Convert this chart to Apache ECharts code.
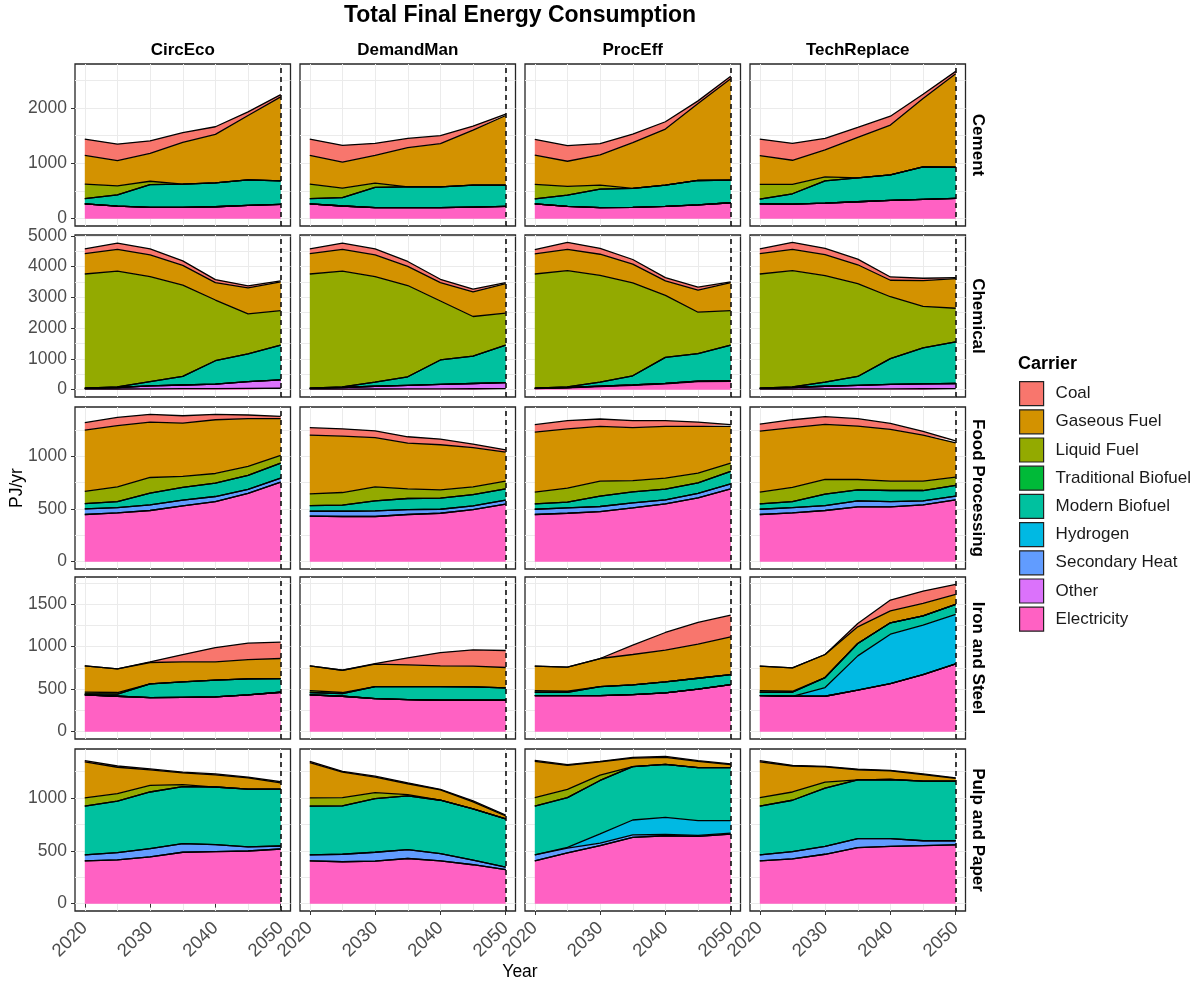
<!DOCTYPE html>
<html>
<head>
<meta charset="utf-8">
<title>Total Final Energy Consumption</title>
<script src="https://cdn.jsdelivr.net/npm/echarts@6/dist/echarts.min.js"></script>
<style>
  html, body { margin: 0; padding: 0; background: #fff; }
  #chart { width: 1197px; height: 983px; }
</style>
</head>
<body>
<div id="chart"></div>
<script>
// ---- data -------------------------------------------------------------
const years = [2020, 2025, 2030, 2035, 2040, 2045, 2050];
const scenarios = ['CircEco', 'DemandMan', 'ProcEff', 'TechReplace'];
const sectors = ['Cement', 'Chemical', 'Food Processing', 'Iron and Steel', 'Pulp and Paper'];
const carriers = ['Coal', 'Gaseous Fuel', 'Liquid Fuel', 'Traditional Biofuel', 'Modern Biofuel',
  'Hydrogen', 'Secondary Heat', 'Other', 'Electricity'];
const carrierColors = ['#F8766D', '#D39200', '#93AA00', '#00BA38', '#00C19F',
  '#00B9E3', '#619CFF', '#DB72FB', '#FF61C3'];

const xTickLabels = [2020, 2030, 2040, 2050];
const xGridBreaks = [2020, 2025, 2030, 2035, 2040, 2045, 2050];
const yTickLabels = [
  [0, 1000, 2000],
  [0, 1000, 2000, 3000, 4000, 5000],
  [0, 500, 1000],
  [0, 500, 1000, 1500],
  [0, 500, 1000]
];
const yGridBreaks = [
  [0, 500, 1000, 1500, 2000, 2500],
  [0, 500, 1000, 1500, 2000, 2500, 3000, 3500, 4000, 4500, 5000],
  [0, 250, 500, 750, 1000, 1250],
  [0, 250, 500, 750, 1000, 1250, 1500, 1750],
  [0, 250, 500, 750, 1000, 1250]
];

// PJ/yr per carrier, 2020..2050
const cementCircEco = {
  'Electricity': [265, 225, 205, 205, 215, 240, 258],
  'Modern Biofuel': [95, 205, 410, 418, 432, 460, 425],
  'Liquid Fuel': [263, 162, 60, 0, 0, 0, 0],
  'Gaseous Fuel': [521, 455, 503, 754, 874, 1162, 1515],
  'Coal': [293, 299, 227, 174, 138, 66, 42]
};
const cementDemandMan = {
  'Electricity': [265, 228, 200, 198, 198, 208, 220],
  'Modern Biofuel': [95, 150, 363, 377, 377, 397, 385],
  'Liquid Fuel': [263, 174, 78, 0, 0, 0, 0],
  'Gaseous Fuel': [521, 467, 503, 706, 778, 994, 1257],
  'Coal': [293, 305, 215, 168, 144, 72, 24]
};
const cementProcEff = {
  'Electricity': [265, 222, 198, 204, 222, 250, 287],
  'Modern Biofuel': [90, 203, 335, 341, 383, 439, 408],
  'Liquid Fuel': [264, 156, 72, 0, 0, 0, 0],
  'Gaseous Fuel': [527, 455, 545, 826, 1012, 1389, 1832],
  'Coal': [287, 281, 203, 156, 132, 48, 42]
};
const cementTechReplace = {
  'Electricity': [265, 263, 281, 305, 329, 347, 365],
  'Modern Biofuel': [88, 186, 402, 432, 461, 587, 563],
  'Liquid Fuel': [264, 168, 71, 0, 0, 0, 0],
  'Gaseous Fuel': [521, 437, 486, 730, 899, 1234, 1689],
  'Coal': [299, 305, 209, 180, 161, 78, 42]
};

const chemicalCircEco = {
  'Electricity': [15, 20, 25, 30, 35, 40, 45],
  'Other': [25, 50, 95, 120, 145, 220, 275],
  'Modern Biofuel': [5, 20, 140, 280, 760, 900, 1125],
  'Liquid Fuel': [3713, 3764, 3412, 2964, 1972, 1303, 1125],
  'Gaseous Fuel': [664, 707, 707, 642, 568, 845, 931],
  'Coal': [150, 203, 193, 150, 96, 65, 32]
};
const chemicalDemandMan = {
  'Electricity': [15, 18, 20, 22, 25, 28, 30],
  'Other': [25, 52, 90, 118, 145, 172, 200],
  'Modern Biofuel': [5, 20, 136, 278, 794, 892, 1215],
  'Liquid Fuel': [3713, 3764, 3426, 2965, 1916, 1285, 1039],
  'Gaseous Fuel': [664, 707, 707, 621, 600, 803, 964],
  'Coal': [150, 203, 193, 161, 107, 86, 32]
};
const chemicalProcEff = {
  'Electricity': [30, 60, 100, 140, 190, 260, 270],
  'Other': [10, 10, 12, 15, 15, 15, 15],
  'Modern Biofuel': [5, 20, 134, 295, 844, 892, 1160],
  'Liquid Fuel': [3713, 3775, 3469, 3019, 2013, 1349, 1125],
  'Gaseous Fuel': [653, 696, 685, 610, 471, 718, 910],
  'Coal': [139, 225, 193, 150, 107, 96, 20]
};
const chemicalTechReplace = {
  'Electricity': [15, 18, 20, 22, 25, 28, 30],
  'Other': [25, 52, 90, 118, 145, 162, 170],
  'Modern Biofuel': [5, 20, 136, 288, 836, 1170, 1352],
  'Liquid Fuel': [3713, 3775, 3458, 3020, 2013, 1349, 1093],
  'Gaseous Fuel': [664, 696, 686, 610, 536, 835, 963],
  'Coal': [150, 225, 203, 182, 107, 75, 32]
};

const foodCircEco = {
  'Electricity': [448, 463, 486, 530, 571, 648, 756],
  'Secondary Heat': [54, 51, 54, 54, 48, 38, 38],
  'Modern Biofuel': [50, 57, 111, 121, 127, 133, 143],
  'Liquid Fuel': [115, 140, 149, 105, 92, 86, 73],
  'Gaseous Fuel': [584, 581, 527, 507, 511, 454, 349],
  'Coal': [70, 79, 73, 70, 51, 35, 22]
};
const foodDemandMan = {
  'Electricity': [432, 429, 429, 448, 460, 495, 546],
  'Secondary Heat': [47, 50, 54, 47, 38, 35, 38],
  'Modern Biofuel': [54, 58, 95, 105, 105, 108, 108],
  'Liquid Fuel': [111, 120, 133, 92, 80, 73, 73],
  'Gaseous Fuel': [559, 537, 467, 435, 428, 372, 276],
  'Coal': [70, 69, 66, 60, 54, 34, 22]
};
const foodProcEff = {
  'Electricity': [448, 460, 476, 511, 549, 606, 692],
  'Secondary Heat': [50, 51, 48, 48, 38, 42, 48],
  'Modern Biofuel': [51, 54, 98, 104, 102, 101, 117],
  'Liquid Fuel': [111, 133, 143, 108, 105, 92, 80],
  'Gaseous Fuel': [572, 565, 521, 502, 492, 445, 349],
  'Coal': [70, 77, 70, 67, 54, 41, 16]
};
const foodTechReplace = {
  'Electricity': [448, 463, 486, 521, 521, 540, 587],
  'Secondary Heat': [50, 51, 47, 57, 50, 38, 35],
  'Modern Biofuel': [51, 57, 108, 105, 105, 98, 102],
  'Liquid Fuel': [111, 134, 140, 98, 89, 89, 79],
  'Gaseous Fuel': [581, 568, 524, 508, 492, 438, 327],
  'Coal': [67, 76, 73, 70, 57, 35, 19]
};

const ironCircEco = {
  'Electricity': [432, 416, 400, 404, 408, 432, 463],
  'Modern Biofuel': [13, 24, 161, 181, 197, 188, 161],
  'Liquid Fuel': [20, 20, 0, 0, 0, 0, 0],
  'Gaseous Fuel': [308, 278, 252, 236, 216, 228, 236],
  'Coal': [0, 0, 8, 86, 168, 192, 192]
};
const ironDemandMan = {
  'Electricity': [432, 416, 389, 377, 369, 369, 369],
  'Modern Biofuel': [28, 32, 141, 153, 161, 157, 145],
  'Liquid Fuel': [23, 12, 0, 0, 0, 0, 0],
  'Gaseous Fuel': [290, 262, 263, 255, 243, 244, 240],
  'Coal': [0, 0, 8, 83, 157, 192, 200]
};
const ironProcEff = {
  'Electricity': [424, 424, 424, 436, 455, 499, 554],
  'Modern Biofuel': [39, 39, 106, 114, 130, 129, 117],
  'Liquid Fuel': [20, 12, 0, 0, 0, 0, 0],
  'Gaseous Fuel': [287, 283, 330, 357, 373, 400, 444],
  'Coal': [0, 0, 0, 110, 208, 256, 255]
};
const ironTechReplace = {
  'Electricity': [424, 416, 416, 487, 565, 671, 797],
  'Hydrogen': [0, 0, 102, 404, 581, 581, 581],
  'Modern Biofuel': [39, 47, 118, 145, 134, 110, 118],
  'Liquid Fuel': [20, 12, 0, 0, 0, 0, 0],
  'Gaseous Fuel': [287, 275, 271, 197, 141, 146, 118],
  'Coal': [0, 0, 0, 39, 126, 145, 118]
};

const pulpCircEco = {
  'Electricity': [405, 414, 442, 486, 492, 498, 517],
  'Secondary Heat': [56, 69, 78, 81, 66, 38, 28],
  'Modern Biofuel': [461, 486, 536, 539, 545, 548, 539],
  'Liquid Fuel': [78, 71, 62, 19, 0, 0, 0],
  'Gaseous Fuel': [340, 250, 147, 112, 115, 106, 59],
  'Coal': [12, 12, 9, 6, 9, 6, 10]
};
const pulpDemandMan = {
  'Electricity': [405, 396, 402, 427, 405, 368, 321],
  'Secondary Heat': [56, 71, 84, 84, 69, 43, 25],
  'Modern Biofuel': [461, 458, 508, 508, 504, 486, 455],
  'Liquid Fuel': [78, 78, 56, 12, 0, 0, 0],
  'Gaseous Fuel': [333, 240, 146, 103, 97, 66, 28],
  'Coal': [13, 9, 10, 9, 6, 9, 9]
};
const pulpProcEff = {
  'Electricity': [405, 480, 548, 626, 642, 636, 657],
  'Secondary Heat': [56, 46, 25, 25, 12, 9, 10],
  'Hydrogen': [0, 7, 87, 140, 162, 140, 118],
  'Modern Biofuel': [461, 470, 505, 505, 502, 502, 502],
  'Liquid Fuel': [81, 78, 50, 0, 0, 0, 0],
  'Gaseous Fuel': [343, 227, 125, 81, 65, 59, 28],
  'Coal': [9, 7, 6, 6, 10, 6, 6]
};
const pulpTechReplace = {
  'Electricity': [405, 424, 467, 530, 542, 548, 555],
  'Secondary Heat': [56, 68, 75, 84, 72, 47, 40],
  'Modern Biofuel': [461, 486, 551, 557, 560, 564, 564],
  'Liquid Fuel': [81, 78, 57, 0, 0, 0, 0],
  'Gaseous Fuel': [337, 246, 143, 94, 81, 62, 25],
  'Coal': [12, 6, 6, 6, 6, 6, 6]
};

const panels = [
  [cementCircEco, cementDemandMan, cementProcEff, cementTechReplace],
  [chemicalCircEco, chemicalDemandMan, chemicalProcEff, chemicalTechReplace],
  [foodCircEco, foodDemandMan, foodProcEff, foodTechReplace],
  [ironCircEco, ironDemandMan, ironProcEff, ironTechReplace],
  [pulpCircEco, pulpDemandMan, pulpProcEff, pulpTechReplace]
];

// ---- layout -----------------------------------------------------------
const FONT = '"Liberation Sans", Arial, Helvetica, sans-serif';
const panelLeft = [75, 300, 525, 750];
const panelTop = [64, 235, 407, 577, 749];
const panelW = 215.5;
const panelH = 162;
const plain = v => String(v);

const chart = echarts.init(document.getElementById('chart'));

const grids = [];
const xAxes = [];
const yAxes = [];
const series = [];
const stackOrder = carriers.slice().reverse(); // Electricity at the bottom

sectors.forEach((sector, r) => {
  // free y per row: 5% expansion around the largest stacked total
  let rowMax = 0;
  panels[r].forEach(p => {
    years.forEach((_, i) => {
      let s = 0;
      carriers.forEach(c => { if (p[c]) s += p[c][i]; });
      rowMax = Math.max(rowMax, s);
    });
  });
  const yMin = -0.05 * rowMax;
  const yMax = 1.05 * rowMax;

  scenarios.forEach((sc, c) => {
    const g = grids.length;
    grids.push({
      left: panelLeft[c], top: panelTop[r], width: panelW, height: panelH,
      show: true, backgroundColor: '#fff', borderColor: '#262626', borderWidth: 1.3
    });

    const xi = xAxes.length;
    xAxes.push({
      type: 'value', gridIndex: g, position: 'bottom', min: 2018.5, max: 2051.5,
      axisLine: { show: false },
      axisTick: { show: false, customValues: xGridBreaks },
      axisLabel: { show: false },
      splitLine: { show: true, lineStyle: { color: '#EBEBEB', width: 1 } }
    });
    if (r === sectors.length - 1) {
      xAxes.push({
        type: 'value', gridIndex: g, position: 'bottom', min: 2018.5, max: 2051.5,
        axisLine: { show: false },
        axisTick: { show: true, customValues: xTickLabels, length: 4, lineStyle: { color: '#333' } },
        axisLabel: {
          customValues: xTickLabels, formatter: plain, rotate: 45, margin: 14, color: '#4D4D4D',
          fontSize: 18.5, fontFamily: FONT, padding: [17, 0, 0, 0]
        },
        splitLine: { show: false }
      });
    }

    const yi = yAxes.length;
    yAxes.push({
      type: 'value', gridIndex: g, position: 'left', min: yMin, max: yMax,
      axisLine: { show: false },
      axisTick: { show: false, customValues: yGridBreaks[r] },
      axisLabel: { show: false },
      splitLine: { show: true, lineStyle: { color: '#EBEBEB', width: 1 } }
    });
    if (c === 0) {
      yAxes.push({
        type: 'value', gridIndex: g, position: 'left', min: yMin, max: yMax,
        axisLine: { show: false },
        axisTick: { show: true, customValues: yTickLabels[r], length: 4, lineStyle: { color: '#333' } },
        axisLabel: {
          customValues: yTickLabels[r], formatter: plain, margin: 8, color: '#4D4D4D',
          fontSize: 17.5, fontFamily: FONT
        },
        splitLine: { show: false }
      });
    }

    const p = panels[r][c];
    stackOrder.forEach((name, k) => {
      const vals = p[name] || years.map(() => 0);
      const color = carrierColors[carriers.indexOf(name)];
      const s = {
        name: name,
        type: 'line',
        xAxisIndex: xi,
        yAxisIndex: yi,
        stack: 'panel' + g,
        // value first so the stack is taken on the y dimension
        data: years.map((yr, i) => [vals[i], yr]),
        encode: { x: 1, y: 0 },
        symbol: 'none',
        showSymbol: false,
        silent: true,
        animation: false,
        lineStyle: { color: '#000', width: 1.3 },
        areaStyle: { color: color, opacity: 1 },
        emphasis: { disabled: true }
      };
      if (k === stackOrder.length - 1) {
        s.markLine = {
          silent: true,
          animation: false,
          symbol: ['none', 'none'],
          label: { show: false },
          lineStyle: { color: '#000', type: [5, 4], width: 1.5 },
          data: [{ xAxis: 2050 }]
        };
      }
      series.push(s);
    });
  });
});

// text around the panels
const txt = (text, x, y, size, bold, rotation, align) => ({
  type: 'text', x: x, y: y, rotation: rotation || 0, silent: true,
  style: {
    text: text, fontSize: size, fontWeight: bold ? 'bold' : 'normal', fontFamily: FONT,
    fill: '#000', align: align || 'center', verticalAlign: 'middle',
    textAlign: align || 'center', textVerticalAlign: 'middle'
  }
});

const graphics = [txt('Total Final Energy Consumption', 520, 16, 23, true)];
scenarios.forEach((sc, c) => graphics.push(txt(sc, panelLeft[c] + panelW / 2, 50, 17, true)));
sectors.forEach((sec, r) => graphics.push(txt(sec, 978, panelTop[r] + panelH / 2, 17, true, -Math.PI / 2)));
graphics.push(txt('PJ/yr', 17, 488, 17.5, false, Math.PI / 2));
graphics.push(txt('Year', 520, 972, 17.5, false));
graphics.push(txt('Carrier', 1018, 364, 18, true, 0, 'left'));

chart.setOption({
  backgroundColor: '#fff',
  animation: false,
  textStyle: { fontFamily: FONT },
  grid: grids,
  xAxis: xAxes,
  yAxis: yAxes,
  legend: {
    orient: 'vertical',
    left: 1019,
    top: 381,
    padding: 0,
    itemWidth: 24,
    itemHeight: 24,
    itemGap: 3,
    icon: 'rect',
    selectedMode: false,
    itemStyle: { borderColor: '#222', borderWidth: 1.2 },
    textStyle: { fontSize: 17, color: '#1A1A1A', fontFamily: FONT, padding: [0, 0, 0, 7] },
    data: carriers.map((name, i) => ({ name: name, itemStyle: { color: carrierColors[i] } }))
  },
  graphic: graphics,
  series: series
});
</script>
</body>
</html>
